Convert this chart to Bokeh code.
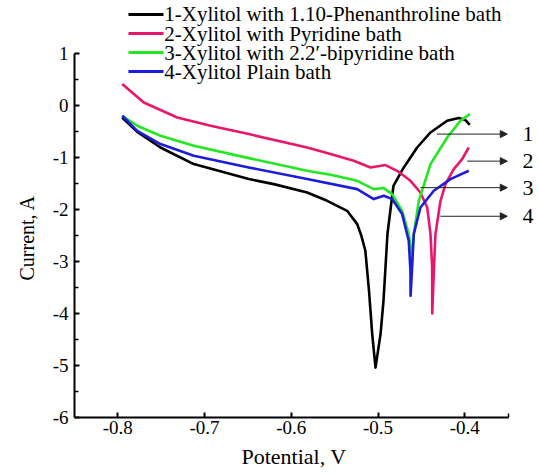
from bokeh.plotting import figure
from bokeh.models import (Range1d, FixedTicker, LabelSet, Arrow, NormalHead, Title,
                          ColumnDataSource)
from bokeh.core.properties import value
from bokeh.embed import file_html
from bokeh.resources import INLINE

# ---------------- data ----------------
series_names = ["1-Xylitol with 1.10-Phenanthroline bath",
                "2-Xylitol with Pyridine bath",
                "3-Xylitol with 2.2\u2032-bipyridine bath",
                "4-Xylitol Plain bath"]

phen_x = [-0.795, -0.7776, -0.7508, -0.7124, -0.649, -0.6202, -0.5817, -0.5586, -0.5356,
          -0.524, -0.5192, -0.5146, -0.5104, -0.5067, -0.5029, -0.4971, -0.4937, -0.4891,
          -0.4822, -0.4703, -0.4549, -0.4395, -0.4203, -0.4069, -0.3992, -0.3942]
phen_y = [-0.23, -0.506, -0.808, -1.127, -1.415, -1.512, -1.673, -1.833, -2.025,
          -2.281, -2.506, -2.794, -3.56, -4.396, -5.04, -4.396, -3.756, -2.467,
          -1.544, -1.192, -0.808, -0.519, -0.294, -0.242, -0.281, -0.371]

pyr_x = [-0.7949, -0.770, -0.7315, -0.6931, -0.649, -0.5817, -0.5548, -0.528, -0.5087,
         -0.4914, -0.478, -0.4626, -0.4511, -0.4433, -0.4395, -0.4376, -0.4375, -0.4355,
         -0.4338, -0.428, -0.4222, -0.4127, -0.403, -0.3954]
pyr_y = [0.412, 0.058, -0.231, -0.390, -0.55, -0.808, -0.935, -1.063, -1.192,
         -1.146, -1.256, -1.448, -1.673, -1.962, -2.473, -3.115, -4.0, -3.115,
         -2.473, -1.833, -1.512, -1.223, -1.031, -0.808]

bipy_x = [-0.7949, -0.7776, -0.7508, -0.7124, -0.649, -0.5817, -0.5548, -0.524, -0.5049,
          -0.4934, -0.4837, -0.4722, -0.4646, -0.4614, -0.4609, -0.4588, -0.453, -0.4395,
          -0.4203, -0.405, -0.3942]
bipy_y = [-0.198, -0.39, -0.583, -0.775, -1.012, -1.256, -1.333, -1.448, -1.608,
          -1.588, -1.704, -2.025, -2.473, -2.858, -2.95, -2.473, -1.833, -1.127,
          -0.615, -0.294, -0.165]

plain_x = [-0.7949, -0.7776, -0.7508, -0.7124, -0.649, -0.5817, -0.524, -0.5049, -0.4934,
           -0.4837, -0.4722, -0.4646, -0.4626, -0.4625, -0.4609, -0.4588, -0.4511, -0.4357,
           -0.4165, -0.3954]
plain_y = [-0.198, -0.487, -0.742, -0.967, -1.192, -1.415, -1.608, -1.8, -1.737,
           -1.8, -2.088, -2.602, -3.179, -3.66, -3.18, -2.473, -1.962, -1.64,
           -1.415, -1.256]

arrow_start_x = [-0.432, -0.3972, -0.4511, -0.428]
arrow_y = [-0.55, -1.07, -1.58, -2.13]
arrow_labels = ["1", "2", "3", "4"]

x_ticks = [-0.8, -0.7, -0.6, -0.5, -0.4]
x_tick_labels = ["-0.8", "-0.7", "-0.6", "-0.5", "-0.4"]
y_ticks = [-6, -5, -4, -3, -2, -1, 0, 1]
y_tick_labels = ["-6", "-5", "-4", "-3", "-2", "-1", "0", "1"]
y_minor = [-5.5, -4.5, -3.5, -2.5, -1.5, -0.5, 0.5]

x_title = "Potential, V"
y_title = "Current, A"

colors = ["#000000", "#E8176B", "#22E822", "#1C1CDB"]
FONT = "Liberation Serif"

# ---------------- layout constants ----------------
X_LO, X_HI = -0.8499, -0.315
Y_LO, Y_HI = -6.0, 2.019
AXIS_X_BOUNDS = (-0.85, -0.35)
AXIS_Y_BOUNDS = (-6, 1)
ARROW_END_X = -0.351
ARROW_LABEL_X = -0.3271
LEG_X0, LEG_X1 = -0.7877, -0.7473
LEG_Y0, LEG_DY = 1.75, 0.366

p = figure(width=538, height=475, output_backend="svg", toolbar_location=None,
           x_range=Range1d(X_LO, X_HI), y_range=Range1d(Y_LO, Y_HI),
           min_border_left=74, min_border_right=0, min_border_top=0, min_border_bottom=58)
p.outline_line_color = None
p.grid.visible = False

for ax in (p.xaxis[0], p.yaxis[0]):
    ax.axis_line_width = 2
    ax.major_tick_in = 5
    ax.major_tick_out = 0
    ax.minor_tick_in = 4
    ax.minor_tick_out = 0
    ax.major_tick_line_width = 2
    ax.minor_tick_line_width = 1.5
    ax.major_label_text_font = FONT
    ax.major_label_text_font_size = "19px"
    ax.major_label_text_color = "black"

p.xaxis.bounds = AXIS_X_BOUNDS
p.xaxis.ticker = FixedTicker(ticks=x_ticks, minor_ticks=[AXIS_X_BOUNDS[1]])
p.xaxis.major_label_overrides = dict(zip(x_ticks, x_tick_labels))
p.xaxis.major_label_standoff = 3

p.yaxis.bounds = AXIS_Y_BOUNDS
p.yaxis.ticker = FixedTicker(ticks=y_ticks, minor_ticks=y_minor)
p.yaxis.major_label_overrides = dict(zip(y_ticks, y_tick_labels))
p.yaxis.major_label_standoff = 6

# axis titles
p.add_layout(Title(text=x_title, text_font=FONT, text_font_size="22px", text_font_style="normal",
                   text_color="black", align="left", offset=167, standoff=10), "below")
p.add_layout(Title(text=y_title, text_font=FONT, text_font_size="20px", text_font_style="normal",
                   text_color="black", align="left", offset=137, standoff=24), "left")

# curves
for xs, ys, c in zip([phen_x, pyr_x, bipy_x, plain_x], [phen_y, pyr_y, bipy_y, plain_y], colors):
    p.line(xs, ys, line_color=c, line_width=2.6, line_join="round")

# legend (drawn at the top of the plot area)
n = len(series_names)
leg_y = [LEG_Y0 - i * LEG_DY for i in range(n)]
p.segment(x0=[LEG_X0] * n, y0=leg_y, x1=[LEG_X1] * n, y1=leg_y, line_color=colors, line_width=3)
p.text(x=[LEG_X1 + 0.001] * n, y=leg_y, text=series_names, text_font=value(FONT),
       text_font_size="21px", text_align="left", text_baseline="middle", text_color="black")

# numbered arrows
asrc = ColumnDataSource(dict(xs=arrow_start_x, xe=[ARROW_END_X] * 4, y=arrow_y,
                             lx=[ARROW_LABEL_X] * 4, t=arrow_labels))
p.add_layout(Arrow(x_start="xs", y_start="y", x_end="xe", y_end="y", source=asrc,
                   line_color="#222222", line_width=1,
                   end=NormalHead(size=7, fill_color="#222222", line_color="#222222")))
p.add_layout(LabelSet(x="lx", y="y", text="t", source=asrc, text_font=value(FONT),
                      text_font_size="22px", text_align="center", text_baseline="middle",
                      text_color="black"))

open("out.html", "w").write(file_html(p, INLINE))
